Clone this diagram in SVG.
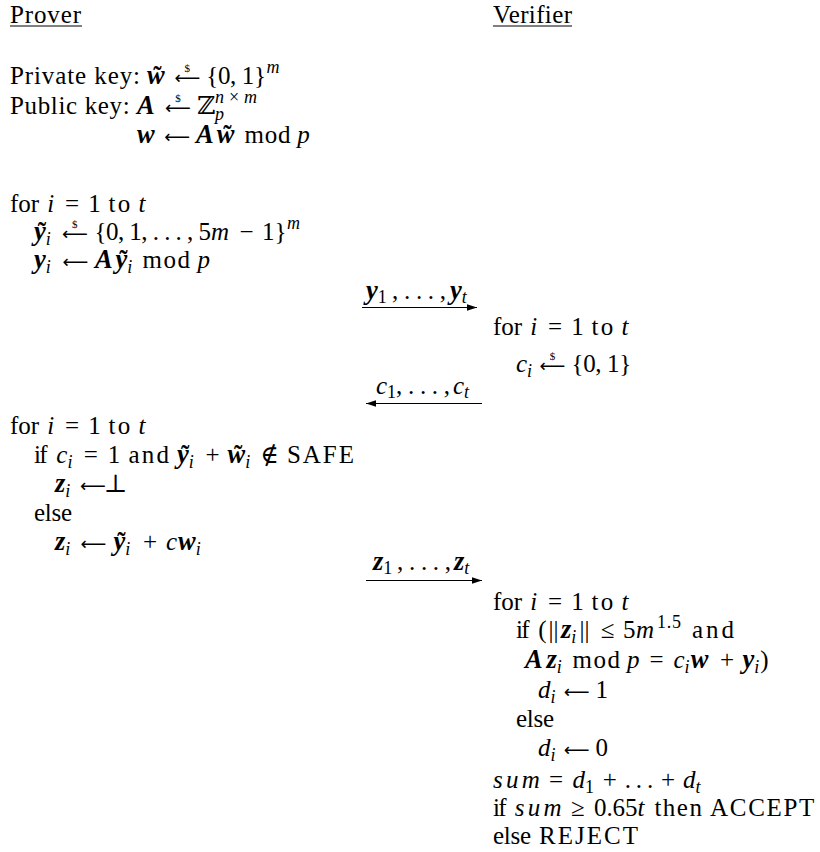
<svg xmlns="http://www.w3.org/2000/svg" width="820" height="852" viewBox="0 0 820 852">
<defs>
<style>
text{font-family:"Liberation Serif","DejaVu Serif",serif;font-size:25px;fill:#000}
.i{font-style:italic}
.b{font-style:italic;font-weight:bold;font-size:26.5px}
.bt{font-weight:bold}
.s{font-size:18px}
.d{font-size:11px}
.c{text-anchor:middle}
.ar{font-family:"DejaVu Sans",sans-serif;font-size:18px;text-anchor:middle}
.u{stroke:#000;stroke-width:1}
.conn line{stroke:#000;stroke-width:1.1;fill:none;marker-end:url(#ah)}
</style>
<marker id="ah" markerUnits="userSpaceOnUse" markerWidth="10" markerHeight="8" refX="10" refY="4" orient="auto">
<path d="M0,0.8 L10,4 L0,7.2 Z" fill="#000"/>
</marker>
</defs>
<rect width="820" height="852" fill="#fff"/>

<g id="prover-header">
<text x="10" y="22.5" textLength="71">Prover</text>
<line class="u" x1="10" y1="26" x2="82" y2="26"/>
</g>
<g id="verifier-header">
<text x="493" y="22.5" textLength="79">Verifier</text>
<line class="u" x1="493" y1="26" x2="572" y2="26"/>
</g>

<g id="prover-keys">
<text x="10" y="84" textLength="130">Private key:</text>
<text class="b" x="147" y="84">w</text>
<text class="bt c" x="157.5" y="84">˜</text>
<text class="ar" x="187.3" y="84">⟵</text>
<text class="d c" x="187.3" y="72">$</text>
<text x="206.3" y="84" textLength="59.7">{0, 1}</text>
<text class="i s" x="266.5" y="73">m</text>

<text x="10" y="114" textLength="119.7">Public key:</text>
<text class="b" x="137" y="114">A</text>
<text class="ar" x="178" y="114">⟵</text>
<text class="d c" x="178" y="102">$</text>
<text x="197" y="114">ℤ</text>
<text class="i s" x="215" y="120">p</text>
<text class="s" x="215" y="103" textLength="42"><tspan class="i">n</tspan>×<tspan class="i">m</tspan></text>

<text class="b" x="137" y="143">w</text>
<text class="ar" x="177.1" y="143">⟵</text>
<text class="b" x="196.1" y="143">A</text>
<text class="b" x="216.8" y="143">w</text>
<text class="bt c" x="227.3" y="143">˜</text>
<text x="244.4" y="143" textLength="46.1">mod</text>
<text class="i" x="297.3" y="143">p</text>
</g>

<g id="prover-commit">
<text x="10" y="212" textLength="29.2">for</text>
<text class="i" x="47.3" y="212">i</text>
<text class="c" x="72" y="212">=</text>
<text x="88.3" y="212">1</text>
<text x="108.6" y="212" textLength="21.7">to</text>
<text class="i" x="138.4" y="212">t</text>

<text x="34" y="240"><tspan class="b">y</tspan><tspan class="i s" dy="5">i</tspan></text>
<text class="bt c" x="42" y="240">˜</text>
<text class="ar" x="74.8" y="240">⟵</text>
<text class="d c" x="74.8" y="228">$</text>
<text x="94.5" y="240" textLength="116.4">{0, 1, . . . , 5</text>
<text class="i" x="210.9" y="240">m</text>
<text class="c" x="246.5" y="240">−</text>
<text x="262" y="240" textLength="24.4">1}</text>
<text class="i s" x="287" y="229">m</text>

<text x="34" y="268"><tspan class="b">y</tspan><tspan class="i s" dy="5">i</tspan></text>
<text class="ar" x="75.5" y="268">⟵</text>
<text class="b" x="95" y="268">A</text>
<text x="115.5" y="268"><tspan class="b">y</tspan><tspan class="i s" dy="5">i</tspan></text>
<text class="bt c" x="123.5" y="268">˜</text>
<text x="142.5" y="268" textLength="47.5">mod</text>
<text class="i" x="197.5" y="268">p</text>
</g>

<g id="verifier-challenge">
<text x="493" y="335" textLength="29.2">for</text>
<text class="i" x="530.3" y="335">i</text>
<text class="c" x="555" y="335">=</text>
<text x="571.3" y="335">1</text>
<text x="591.6" y="335" textLength="21.7">to</text>
<text class="i" x="621.4" y="335">t</text>

<text x="516" y="372"><tspan class="i">c</tspan><tspan class="i s" dy="5">i</tspan></text>
<text class="ar" x="552.5" y="372">⟵</text>
<text class="d c" x="552.5" y="360">$</text>
<text x="571.5" y="372" textLength="59.7">{0, 1}</text>
</g>

<g id="prover-response">
<text x="10" y="434" textLength="29.2">for</text>
<text class="i" x="47.3" y="434">i</text>
<text class="c" x="72" y="434">=</text>
<text x="88.3" y="434">1</text>
<text x="108.6" y="434" textLength="21.7">to</text>
<text class="i" x="138.4" y="434">t</text>

<text x="34" y="463" textLength="13.6">if</text>
<text x="56.3" y="463"><tspan class="i">c</tspan><tspan class="i s" dy="5">i</tspan></text>
<text class="c" x="90.9" y="463">=</text>
<text x="107.7" y="463">1</text>
<text x="128.5" y="463" textLength="40.4">and</text>
<text x="177.1" y="463"><tspan class="b">y</tspan><tspan class="i s" dy="5">i</tspan></text>
<text class="bt c" x="185.1" y="463">˜</text>
<text class="c" x="212.5" y="463">+</text>
<text x="227.6" y="463"><tspan class="b">w</tspan><tspan class="i s" dy="5">i</tspan></text>
<text class="bt c" x="238.1" y="463">˜</text>
<text class="c" x="269.5" y="463">∉</text>
<text x="287" y="463" textLength="67">SAFE</text>

<text x="55" y="492"><tspan class="b">z</tspan><tspan class="i s" dy="5">i</tspan></text>
<text class="ar" x="93" y="492">⟵</text>
<text class="c" x="115.5" y="492">⊥</text>

<text x="34" y="521" textLength="38">else</text>

<text x="55" y="550"><tspan class="b">z</tspan><tspan class="i s" dy="5">i</tspan></text>
<text class="ar" x="93.5" y="550">⟵</text>
<text x="113.5" y="550"><tspan class="b">y</tspan><tspan class="i s" dy="5">i</tspan></text>
<text class="bt c" x="121.5" y="550">˜</text>
<text class="c" x="150" y="550">+</text>
<text x="166" y="550"><tspan class="i">c</tspan><tspan class="b" dx="1">w</tspan><tspan class="i s" dy="5">i</tspan></text>
</g>

<g id="verifier-check">
<text x="493" y="610" textLength="29.2">for</text>
<text class="i" x="530.3" y="610">i</text>
<text class="c" x="555" y="610">=</text>
<text x="571.3" y="610">1</text>
<text x="591.6" y="610" textLength="21.7">to</text>
<text class="i" x="621.4" y="610">t</text>

<text x="516" y="638" textLength="13.6">if</text>
<text x="538.3" y="638">(</text>
<text x="548.5" y="638">||</text>
<text x="561" y="638"><tspan class="b">z</tspan><tspan class="i s" dy="5">i</tspan></text>
<text x="579.5" y="638">||</text>
<text class="c" x="607.5" y="638">≤</text>
<text x="623" y="638">5</text>
<text class="i" x="636" y="638">m</text>
<text class="s" x="657" y="628" textLength="24">1.5</text>
<text x="692" y="638" textLength="42">and</text>

<text class="b" x="525" y="668">A</text>
<text x="546.5" y="668"><tspan class="b">z</tspan><tspan class="i s" dy="5">i</tspan></text>
<text x="572.5" y="668" textLength="47.5">mod</text>
<text class="i" x="627" y="668">p</text>
<text class="c" x="656.5" y="668">=</text>
<text x="673.5" y="668"><tspan class="i">c</tspan><tspan class="i s" dy="5">i</tspan><tspan class="b" dy="-5" dx="1">w</tspan></text>
<text class="c" x="727" y="668">+</text>
<text x="742.5" y="668"><tspan class="b">y</tspan><tspan class="i s" dy="5">i</tspan><tspan dy="-5" dx="1">)</tspan></text>

<text x="538" y="698"><tspan class="i">d</tspan><tspan class="i s" dy="5">i</tspan></text>
<text class="ar" x="576.6" y="698">⟵</text>
<text x="595.6" y="698">1</text>

<text x="516" y="727" textLength="38">else</text>

<text x="538" y="756"><tspan class="i">d</tspan><tspan class="i s" dy="5">i</tspan></text>
<text class="ar" x="576.6" y="756">⟵</text>
<text x="595.6" y="756">0</text>

<text class="i" x="493" y="788" textLength="46.8">sum</text>
<text class="c" x="556.1" y="788">=</text>
<text x="572.4" y="788"><tspan class="i">d</tspan><tspan class="s" dy="5">1</tspan></text>
<text class="c" x="609.8" y="788">+</text>
<text x="624.7" y="788" textLength="28.5">. . .</text>
<text class="c" x="668.1" y="788">+</text>
<text x="683" y="788"><tspan class="i">d</tspan><tspan class="i s" dy="5">t</tspan></text>

<text x="493" y="816" textLength="13.6">if</text>
<text class="i" x="514.7" y="816" textLength="46.8">sum</text>
<text class="c" x="577.8" y="816">≥</text>
<text x="594.1" y="816" textLength="43.4">0.65</text>
<text class="i" x="637.5" y="816">t</text>
<text x="654.4" y="816" textLength="47.5">then</text>
<text x="710" y="816" textLength="104.4">ACCEPT</text>

<text x="493" y="844" textLength="38">else</text>
<text x="539.1" y="844" textLength="98.9">REJECT</text>
</g>

<g id="connectors" class="conn">
<g id="msg-y">
<line x1="362" y1="307.5" x2="477" y2="307.5"/>
<text x="366" y="299"><tspan class="b">y</tspan><tspan class="s" dy="4">1</tspan></text>
<text x="392" y="299" textLength="54">, . . . ,</text>
<text x="450" y="299"><tspan class="b">y</tspan><tspan class="i s" dy="4">t</tspan></text>
</g>
<g id="msg-c">
<line x1="482" y1="403.5" x2="366" y2="403.5"/>
<text x="376" y="394"><tspan class="i">c</tspan><tspan class="s" dy="4">1</tspan></text>
<text x="396" y="394" textLength="54">, . . . ,</text>
<text x="453" y="394"><tspan class="i">c</tspan><tspan class="i s" dy="4">t</tspan></text>
</g>
<g id="msg-z">
<line x1="366" y1="580.5" x2="482" y2="580.5"/>
<text x="373" y="570"><tspan class="b">z</tspan><tspan class="s" dy="4">1</tspan></text>
<text x="397" y="570" textLength="54">, . . . ,</text>
<text x="454" y="570"><tspan class="b">z</tspan><tspan class="i s" dy="4">t</tspan></text>
</g>
</g>
</svg>
